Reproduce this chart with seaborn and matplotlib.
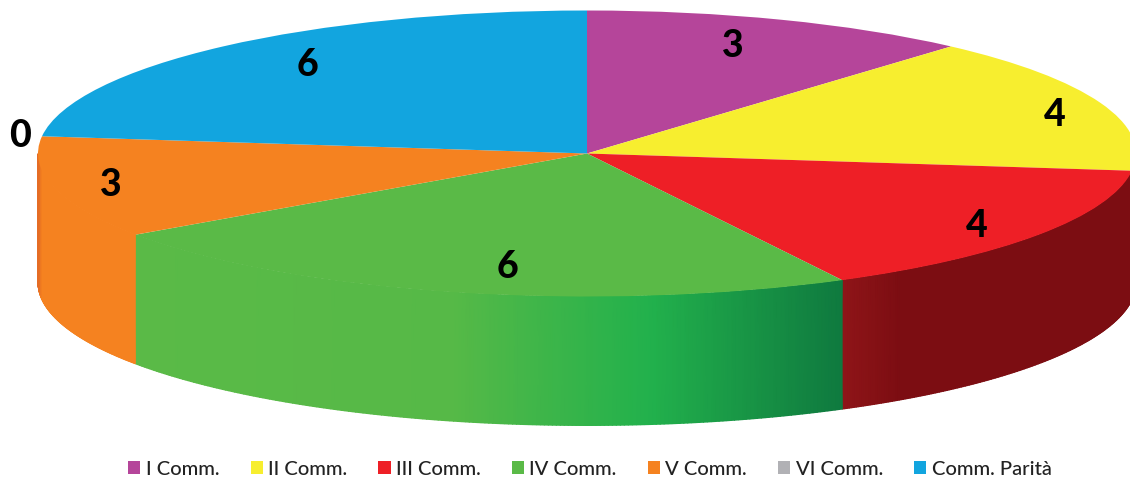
import matplotlib.pyplot as plt
from matplotlib.colors import LinearSegmentedColormap
import numpy as np
import seaborn as sns

categories = ["I Comm.", "II Comm.", "III Comm.", "IV Comm.", "V Comm.", "VI Comm.", "Comm. Parità"]
values = [3, 4, 4, 6, 3, 0, 6]
colors = ["#b5459a", "#f7ee2f", "#ee1f26", "#5aba47", "#f58220", "#b1b1b5", "#12a5df"]

# side wall gradients for the slices that face the viewer
wall_stops = {
    "III Comm.": [(0, "#8f1518"), (0.2, "#7c0d12"), (1, "#7c0d12")],
    "IV Comm.": [(0, "#5aba47"), (0.45, "#56b947"), (0.73, "#22b14c"), (1, "#0f7a3f")],
    "V Comm.": [(0, "#e56c25"), (0.03, "#f58220"), (1, "#f58220")],
}

W, H = 1130, 481
cx, cy, rx, ry = 587, 154.5, 549, 143  # top ellipse, in pixels
depth = 129 / ry

sns.set_theme(style="white")
plt.rcParams["font.family"] = ["Lato", "DejaVu Sans"]

fig = plt.figure(figsize=(W / 100, H / 100), dpi=100)
ax = fig.add_axes([0, 0, 1, 1])

angles = np.cumsum([0] + values) / sum(values) * 360

# walls first, the top of the pie goes over them
for name, a0, a1 in zip(categories, angles[:-1], angles[1:]):
    lo, hi = max(a0, 90), min(a1, 270)
    if name not in wall_stops or hi <= lo:
        continue
    t = np.radians(np.linspace(lo, hi, 200))
    x = np.sin(t)
    y = np.cos(t)
    frac = (x - x.min()) / (x.max() - x.min())
    cmap = LinearSegmentedColormap.from_list(name, wall_stops[name])
    ax.pcolormesh(np.vstack([x, x]), np.vstack([y, y - depth]), np.vstack([frac, frac]),
                  cmap=cmap, vmin=0, vmax=1, shading="gouraud", zorder=1)

wedges, _ = ax.pie(values, colors=colors, startangle=90, counterclock=False, radius=1)
for w in wedges:
    w.set_zorder(2)
    w.set_edgecolor("none")

ax.set_aspect("auto")
ax.set_xlim(-cx / rx, (W - cx) / rx)
ax.set_ylim(-(H - cy) / ry, cy / ry)
ax.axis("off")

# value labels, placed by hand like in the original
label_px = [(733, 46), (1055, 115), (977, 226), (508, 267), (111, 185), (20, 136), (307, 65)]
for v, (px, py) in zip(values, label_px):
    ax.text(px / W, 1 - py / H, str(v), transform=ax.transAxes, ha="center", va="center",
            fontsize=27, fontweight=900, color="black", zorder=3)

ax.legend(wedges, categories, loc="center", bbox_to_anchor=(590 / W, 1 - 470 / H), ncol=7,
          frameon=False, prop={"size": 14.5, "weight": "medium"}, handlelength=0.6,
          handleheight=0.6, handletextpad=0.27, columnspacing=1.55, labelcolor="#222222",
          borderpad=0)

fig.savefig("out.png", dpi=100)
plt.close(fig)
